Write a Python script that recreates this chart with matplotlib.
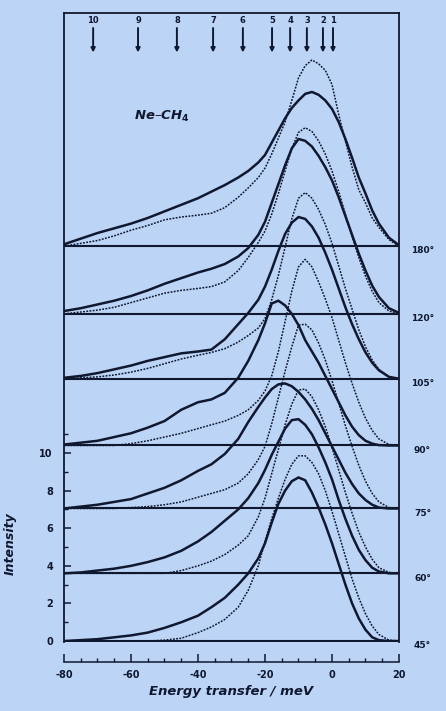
import matplotlib.pyplot as plt
import matplotlib.transforms as mtransforms

plt.rcParams['font.family'] = ['DejaVu Sans']
plt.rcParams['font.weight'] = 'bold'
plt.rcParams['axes.unicode_minus'] = False

# energy grid (meV) shared by every trace
energy = [-80, -75, -70, -65, -60, -55, -50, -45, -40, -36, -32, -28, -25, -22,
          -20, -18, -16, -14, -12, -10, -8, -6, -4, -2, 0, 2, 4, 6, 8, 10, 12,
          14, 17, 20]

# measured spectra (solid) and calculated spectra (dotted), one pair per angle
exp_45 = [0, 0.05, 0.1, 0.2, 0.3, 0.45, 0.7, 1.0, 1.35, 1.8, 2.3, 3.0, 3.6, 4.4,
          5.2, 6.3, 7.3, 8.0, 8.5, 8.7, 8.55, 7.9, 7.1, 6.2, 5.2, 4.1, 3.0, 2.0,
          1.2, 0.6, 0.2, 0.05, 0, 0]
calc_45 = [0, 0, 0, 0, 0, 0, 0.05, 0.15, 0.45, 0.75, 1.15, 1.8, 2.7, 4.0, 5.3,
           6.5, 7.6, 8.6, 9.4, 9.85, 9.85, 9.5, 8.9, 8.0, 6.9, 5.7, 4.5, 3.3,
           2.3, 1.45, 0.8, 0.35, 0.05, 0]
exp_60 = [0, 0.05, 0.15, 0.25, 0.4, 0.6, 0.85, 1.2, 1.7, 2.2, 2.8, 3.4, 4.0, 4.8,
          5.5, 6.3, 7.0, 7.7, 8.15, 8.2, 7.9, 7.4, 6.7, 5.9, 5.0, 3.9, 2.9, 2.0,
          1.25, 0.7, 0.3, 0.1, 0, 0]
calc_60 = [0, 0, 0, 0, 0, 0, 0, 0.15, 0.4, 0.65, 1.0, 1.5, 2.0, 3.0, 4.0, 5.3,
           6.6, 7.9, 9.0, 9.75, 9.8, 9.4, 8.7, 7.8, 6.7, 5.5, 4.3, 3.2, 2.2, 1.4,
           0.75, 0.3, 0.05, 0]
exp_75 = [0, 0.1, 0.2, 0.35, 0.5, 0.8, 1.1, 1.5, 2.0, 2.35, 2.9, 3.7, 4.6, 5.4,
          5.9, 6.35, 6.6, 6.65, 6.5, 6.2, 5.8, 5.3, 4.7, 4.0, 3.3, 2.6, 1.9, 1.3,
          0.8, 0.45, 0.2, 0.05, 0, 0]
calc_75 = [0, 0, 0, 0, 0.05, 0.1, 0.2, 0.35, 0.6, 0.8, 1.0, 1.35, 1.85, 2.6, 3.3,
           4.5, 5.9, 7.3, 8.6, 9.75, 9.8, 9.5, 8.8, 7.9, 6.8, 5.6, 4.4, 3.3, 2.3,
           1.45, 0.8, 0.35, 0.05, 0]
exp_90 = [0.05, 0.15, 0.25, 0.45, 0.65, 0.95, 1.3, 1.9, 2.3, 2.45, 2.8, 3.6, 4.5,
          5.6, 6.5, 7.55, 7.7, 7.45, 7.0, 6.4, 5.6, 5.0, 4.4, 3.7, 3.0, 2.3, 1.6,
          1.0, 0.55, 0.25, 0.1, 0.02, 0, 0]
calc_90 = [0, 0, 0, 0, 0.1, 0.25, 0.45, 0.65, 0.9, 1.1, 1.3, 1.6, 1.9, 2.4, 2.9,
           3.7, 5.0, 6.6, 8.2, 9.5, 9.9, 9.5, 8.7, 7.8, 6.8, 5.6, 4.4, 3.3, 2.3,
           1.45, 0.8, 0.35, 0.05, 0]
exp_105 = [0.05, 0.15, 0.3, 0.5, 0.7, 0.95, 1.15, 1.35, 1.45, 1.55, 2.1, 2.9, 3.5,
           4.2, 4.9, 5.8, 6.8, 7.7, 8.3, 8.6, 8.5, 8.1, 7.5, 6.7, 5.8, 4.8, 3.8,
           2.9, 2.1, 1.4, 0.85, 0.45, 0.1, 0]
calc_105 = [0, 0.05, 0.1, 0.2, 0.35, 0.55, 0.8, 1.05, 1.25, 1.4, 1.6, 1.95, 2.3,
            2.7, 3.2, 4.2, 5.5, 7.0, 8.5, 9.6, 9.9, 9.6, 9.0, 8.2, 7.2, 6.0, 4.8,
            3.7, 2.6, 1.7, 1.0, 0.5, 0.1, 0]
exp_120 = [0.15, 0.3, 0.5, 0.7, 0.95, 1.25, 1.6, 1.9, 2.2, 2.4, 2.65, 3.05, 3.5,
           4.2, 4.9, 5.9, 6.9, 7.9, 8.8, 9.3, 9.2, 8.9, 8.4, 7.8, 7.1, 6.2, 5.2,
           4.2, 3.2, 2.3, 1.5, 0.9, 0.3, 0.05]
calc_120 = [0, 0.1, 0.2, 0.35, 0.6, 0.85, 1.1, 1.25, 1.35, 1.45, 1.7, 2.3, 3.0,
            3.8, 4.4, 5.3, 6.4, 7.6, 8.8, 9.65, 9.9, 9.7, 9.2, 8.5, 7.6, 6.5, 5.3,
            4.1, 3.0, 2.0, 1.2, 0.6, 0.15, 0]
exp_180 = [0.1, 0.4, 0.7, 0.95, 1.2, 1.5, 1.85, 2.2, 2.55, 2.9, 3.25, 3.65, 4.0,
           4.45, 4.85, 5.5, 6.15, 6.8, 7.35, 7.75, 8.1, 8.2, 8.05, 7.75, 7.3, 6.6,
           5.7, 4.7, 3.65, 2.8, 1.9, 1.2, 0.45, 0.05]
calc_180 = [0, 0.15, 0.3, 0.55, 0.85, 1.1, 1.4, 1.55, 1.65, 1.75, 2.05, 2.6, 3.1,
            3.65, 4.15, 4.9, 5.75, 6.6, 7.75, 8.95, 9.6, 9.9, 9.7, 9.35, 8.6, 7.0,
            5.6, 4.2, 3.0, 2.3, 1.5, 1.0, 0.35, 0]

angles = ['45°', '60°', '75°', '90°', '105°', '120°', '180°']
offsets = [0, 3.6, 7.05, 10.4, 13.95, 17.4, 21.0]
measured = [exp_45, exp_60, exp_75, exp_90, exp_105, exp_120, exp_180]
calculated = [calc_45, calc_60, calc_75, calc_90, calc_105, calc_120, calc_180]

# rotational levels marked along the top
level_labels = ['10', '9', '8', '7', '6', '5', '4', '3', '2', '1']
level_energy = [-71.3, -57.9, -46.3, -35.5, -26.6, -17.9, -12.5, -7.5, -2.7, 0.3]

bg = '#bcd4f5'
ink = '#101830'

fig = plt.figure(figsize=(4.46, 7.11), dpi=100, facecolor=bg)
ax = fig.add_axes([64 / 446, 1 - 642 / 711, 335 / 446, 629 / 711], facecolor=bg)
ax.set_xlim(-80, 20)
ax.set_ylim(-0.05, 33.4)

side = mtransforms.blended_transform_factory(ax.transAxes, ax.transData)

for off, lab, m, c in zip(offsets, angles, measured, calculated):
    ax.axhline(off, color=ink, lw=1.5)
    ax.plot(energy, [off + v for v in m], color=ink, lw=1.8,
            solid_joinstyle='round', solid_capstyle='round')
    ax.plot(energy, [off + v for v in c], color=ink, lw=1.1,
            linestyle=(0, (1.2, 0.9)))
    ax.text(1.07, off - 0.25, lab, transform=side, ha='center', va='center',
            fontsize=6.5, fontweight='bold', color=ink)

for lab, e in zip(level_labels, level_energy):
    ax.text(e, 33.0, lab, ha='center', va='center', fontsize=6,
            fontweight='bold', color=ink)
    ax.annotate('', xy=(e, 31.3), xytext=(e, 32.6),
                arrowprops=dict(arrowstyle='-|>', color=ink, lw=1.4,
                                mutation_scale=6, shrinkA=0, shrinkB=0))

ax.text(-50.7, 27.9, 'Ne–CH$_4$', ha='center', va='center', fontsize=9.5,
        fontweight='bold', fontstyle='italic', color=ink)

# frame and axes
for s in ['left', 'right', 'top', 'bottom']:
    ax.spines[s].set_color(ink)
    ax.spines[s].set_linewidth(1.3)
ax.spines['bottom'].set_position(('outward', 14.5))
ax.spines['bottom'].set_linewidth(1.1)

ax.set_xticks([-80, -60, -40, -20, 0, 20])
ax.set_xticks(range(-80, 21, 5), minor=True)
ax.set_yticks([0, 2, 4, 6, 8, 10])
ax.set_yticks([1, 3, 5, 7, 9, 11], minor=True)
ax.tick_params(axis='both', which='both', direction='in', color=ink,
               labelcolor=ink, labelsize=7)
ax.tick_params(axis='x', which='major', length=6, width=1.1, pad=6)
ax.tick_params(axis='x', which='minor', length=3, width=1.0)
ax.tick_params(axis='y', which='major', length=5, width=1.1, pad=8)
ax.tick_params(axis='y', which='minor', length=3, width=1.0)
ax.tick_params(right=False, top=False, which='both')

ax.set_xlabel('Energy transfer / meV', fontsize=9.5, fontweight='bold',
              fontstyle='italic', color=ink, labelpad=3)
ax.text(-0.16, 5.2, 'Intensity', transform=side, rotation=90, ha='center',
        va='center', fontsize=9, fontweight='bold', fontstyle='italic', color=ink)

fig.savefig('out.png', dpi=100, facecolor=bg)
